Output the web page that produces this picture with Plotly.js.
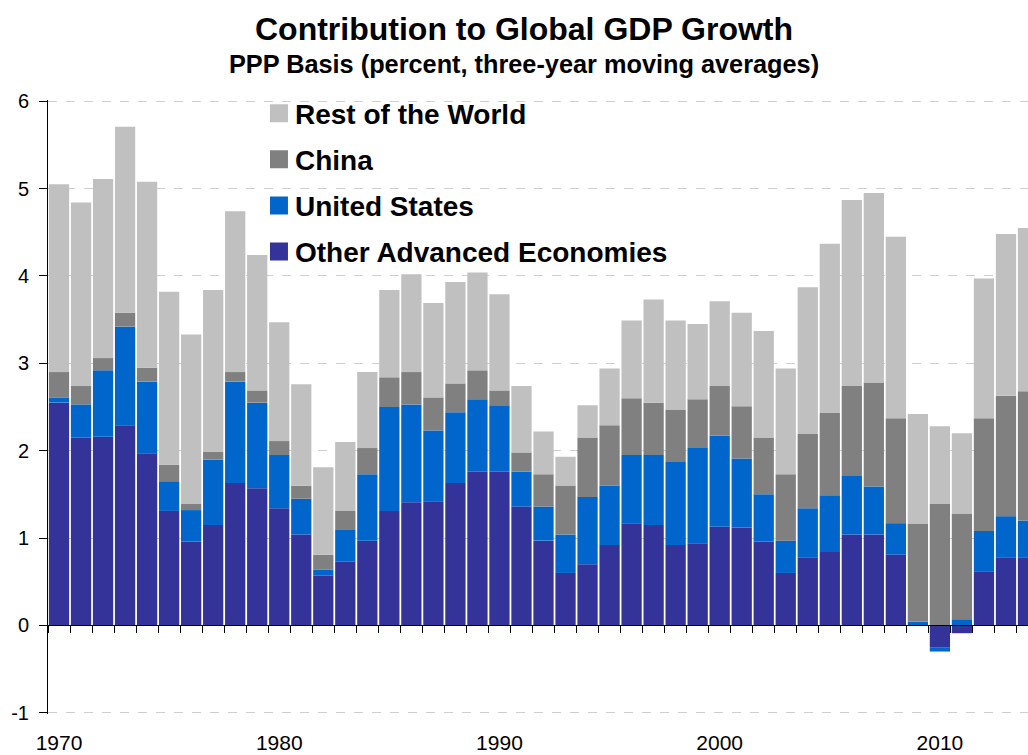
<!DOCTYPE html>
<html>
<head>
<meta charset="utf-8">
<script src="https://cdn.plot.ly/plotly-3.0.1.min.js"></script>
<style>
  html, body { margin: 0; padding: 0; background: #ffffff; }
  #chart { width: 1028px; height: 755px; }
</style>
</head>
<body>
<div id="chart"></div>
<script>
// ---- Data ----
const years = [1970, 1971, 1972, 1973, 1974, 1975, 1976, 1977, 1978, 1979,
               1980, 1981, 1982, 1983, 1984, 1985, 1986, 1987, 1988, 1989,
               1990, 1991, 1992, 1993, 1994, 1995, 1996, 1997, 1998, 1999,
               2000, 2001, 2002, 2003, 2004, 2005, 2006, 2007, 2008, 2009,
               2010, 2011, 2012, 2013, 2014];

const otherAdvanced = [2.55, 2.15, 2.16, 2.29, 1.97, 1.31, 0.96, 1.15, 1.63, 1.57,
                       1.34, 1.04, 0.57, 0.73, 0.97, 1.31, 1.41, 1.42, 1.63, 1.76,
                       1.76, 1.36, 0.97, 0.60, 0.70, 0.92, 1.17, 1.15, 0.92, 0.94,
                       1.13, 1.12, 0.96, 0.60, 0.78, 0.84, 1.04, 1.04, 0.81, 0.00,
                       -0.25, -0.09, 0.62, 0.78, 0.78];

const unitedStates = [0.06, 0.38, 0.76, 1.13, 0.82, 0.34, 0.36, 0.75, 1.16, 0.98,
                      0.61, 0.41, 0.07, 0.37, 0.76, 1.19, 1.12, 0.81, 0.81, 0.83,
                      0.76, 0.40, 0.39, 0.44, 0.77, 0.68, 0.78, 0.80, 0.95, 1.09,
                      1.04, 0.79, 0.54, 0.37, 0.56, 0.65, 0.67, 0.55, 0.36, 0.04,
                      -0.05, 0.07, 0.46, 0.47, 0.42];

const china = [0.29, 0.21, 0.14, 0.16, 0.16, 0.19, 0.07, 0.09, 0.11, 0.14,
               0.16, 0.15, 0.17, 0.21, 0.30, 0.34, 0.37, 0.38, 0.33, 0.33,
               0.17, 0.22, 0.37, 0.56, 0.68, 0.69, 0.65, 0.60, 0.60, 0.56,
               0.57, 0.60, 0.65, 0.76, 0.85, 0.94, 1.03, 1.19, 1.20, 1.12,
               1.39, 1.21, 1.29, 1.38, 1.48];

const restOfWorld = [2.15, 2.10, 2.05, 2.13, 2.13, 1.98, 1.94, 1.85, 1.84, 1.55,
                     1.36, 1.16, 1.00, 0.79, 0.87, 1.00, 1.12, 1.08, 1.16, 1.12,
                     1.10, 0.76, 0.49, 0.33, 0.37, 0.65, 0.89, 1.18, 1.02, 0.86,
                     0.97, 1.07, 1.22, 1.21, 1.68, 1.94, 2.13, 2.17, 2.08, 1.26,
                     0.89, 0.92, 1.60, 1.85, 1.87];

const seriesNames = ["Other Advanced Economies", "United States", "China", "Rest of the World"];
const labelYears = [1970, 1980, 1990, 2000, 2010];
const yTicks = [-1, 0, 1, 2, 3, 4, 5, 6];

const titleText = "Contribution to Global GDP Growth";
const subtitleText = "PPP Basis (percent, three-year moving averages)";

// ---- Styling ----
const FONT = "Liberation Sans, Arial, Helvetica, sans-serif";
const colors = ["#333399", "#0066CC", "#808080", "#C0C0C0"];
const seriesValues = [otherAdvanced, unitedStates, china, restOfWorld];

const traces = seriesValues.map((vals, i) => ({
  type: "bar",
  name: seriesNames[i],
  x: years,
  y: vals,
  marker: { color: colors[i], line: { width: 0 } },
  legendgroup: "g" + i,
  legendrank: seriesValues.length - i,
  hoverinfo: "x+y+name"
}));

// invisible helper trace so that the label axis (x2) is drawn
traces.push({
  type: "scatter", mode: "markers",
  x: [years[0]], y: [null],
  xaxis: "x2", yaxis: "y",
  showlegend: false, hoverinfo: "skip",
  marker: { opacity: 0 }
});

const xRange = [years[0] - 0.5, years[years.length - 1]];
// small padding so the edge gridlines at -1 and 6 are still drawn
const yRange = [yTicks[0] - 0.015, yTicks[yTicks.length - 1] + 0.015];
const boundaries = years.map(y => y - 0.5).concat([years[years.length - 1] + 0.5]);
// paper-y of the zero line
const zeroPos = (0 - yRange[0]) / (yRange[1] - yRange[0]);

const layout = {
  width: 1028,
  height: 755,
  margin: { l: 48, r: 0, t: 100, b: 41, pad: 0 },
  paper_bgcolor: "#ffffff",
  plot_bgcolor: "#ffffff",
  font: { family: FONT, color: "#000000", size: 20 },
  barmode: "relative",
  bargap: 0.08,
  showlegend: true,
  legend: {
    x: 0.2112, xanchor: "left",
    y: 1.0187, yanchor: "top",
    bgcolor: "rgba(0,0,0,0)",
    borderwidth: 0,
    traceorder: "grouped",
    tracegroupgap: 6.7,
    font: { family: FONT, size: 28, color: "#000000", weight: "bold" }
  },
  xaxis: {
    range: xRange,
    anchor: "free",
    position: zeroPos,
    showline: true, linecolor: "#000000", linewidth: 1,
    ticks: "outside", ticklen: 7, tickwidth: 1, tickcolor: "#000000",
    tickmode: "array", tickvals: boundaries,
    showticklabels: false,
    showgrid: false, zeroline: false,
    fixedrange: true
  },
  xaxis2: {
    range: xRange,
    overlaying: "x",
    anchor: "y",
    side: "bottom",
    showline: false, showgrid: false, zeroline: false,
    ticks: "",
    tickmode: "array",
    tickvals: labelYears,
    ticktext: labelYears.map(String),
    tickfont: { family: FONT, size: 21, color: "#000000" },
    ticklabelstandoff: 14,
    fixedrange: true
  },
  yaxis: {
    range: yRange,
    tickmode: "array",
    tickvals: yTicks,
    ticktext: yTicks.map(String),
    tickfont: { family: FONT, size: 20, color: "#000000" },
    ticklabelstandoff: 6,
    showline: true, linecolor: "#000000", linewidth: 1,
    ticks: "outside", ticklen: 8, tickwidth: 1, tickcolor: "#000000",
    showgrid: true, gridcolor: "#CFCFCF", gridwidth: 1, griddash: "dash",
    zeroline: false,
    fixedrange: true
  },
  shapes: [
    // white panel behind the legend that hides the gridlines there
    { type: "rect", layer: "between", xref: "paper", yref: "y",
      x0: 0.1296, x1: 0.7245, y0: 4.5, y1: 6.05,
      fillcolor: "#ffffff", line: { width: 0 } }
  ],
  annotations: [
    { text: "<b>" + titleText + "</b>", xref: "paper", yref: "paper",
      x: 0.4857, y: 1.1164, xanchor: "center", yanchor: "middle",
      showarrow: false, font: { family: FONT, size: 32, color: "#000000" } },
    { text: "<b>" + subtitleText + "</b>", xref: "paper", yref: "paper",
      x: 0.4857, y: 1.0591, xanchor: "center", yanchor: "middle",
      showarrow: false, font: { family: FONT, size: 25.3, color: "#000000" } }
  ]
};

Plotly.newPlot("chart", traces, layout, { staticPlot: true, displayModeBar: false }).then(gd => {
  // enlarge legend swatches to match the reference squares
  gd.querySelectorAll(".legend .legendpoints path").forEach(p => {
    p.setAttribute("d", "M13,9H-5V-9H13Z");
  });
});
</script>
</body>
</html>
